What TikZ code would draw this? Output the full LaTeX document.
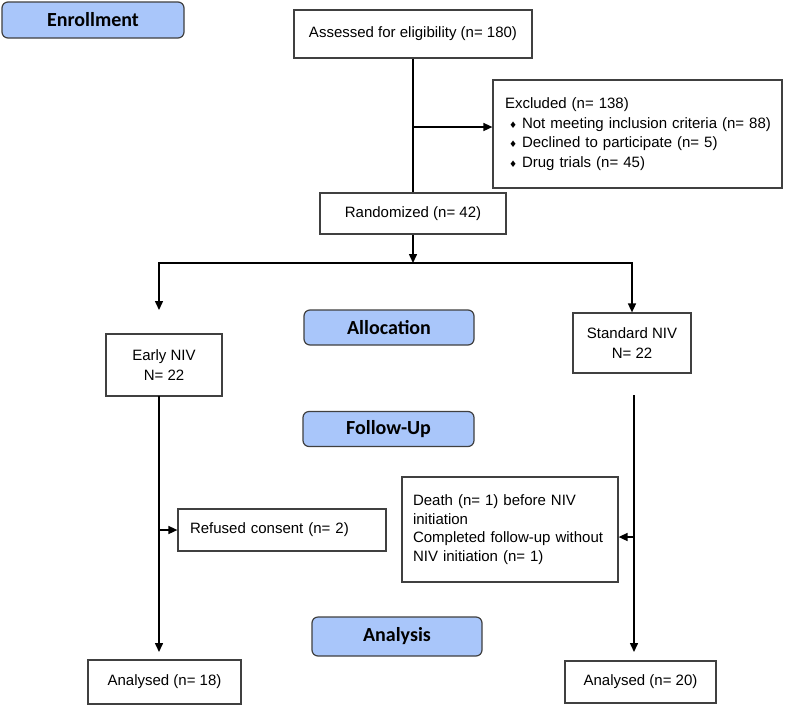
\documentclass[tikz,border=0pt]{standalone}
\usepackage{fontspec}
\setmainfont{Liberation Sans}
\newfontfamily\headfont{Carlito}
\newfontfamily\symfont{DejaVu Sans}
\usetikzlibrary{arrows.meta}
\definecolor{headblue}{RGB}{169,198,250}
\definecolor{boxgray}{RGB}{64,64,64}
\newcommand{\bul}{{\symfont\fontsize{9}{9}\selectfont ♦}}
\begin{document}
\begin{tikzpicture}[x=1pt,y=-1pt,
 box/.style={draw=boxgray,line width=1.2pt,fill=white,inner sep=0pt,font=\fontsize{15}{19.5}\selectfont,align=center},
 head/.style={draw=boxgray,line width=1.2pt,fill=headblue,rounded corners=6pt,inner sep=0pt,font=\headfont\bfseries\fontsize{20}{24}\selectfont},
 conn/.style={line width=1.5pt,black},
 arr/.style={conn,-{Triangle[length=9pt,width=8pt]}}]
\fill[white] (0,0) rectangle (787,705);
\useasboundingbox (0,0) rectangle (787,705);
% phase headings
\node[head,minimum width=182pt,minimum height=36pt] (enroll) at (93,20) {Enrollment};
\node[head,minimum width=170pt,minimum height=35pt] (alloc) at (389,327.5) {Allocation};
\node[head,minimum width=171pt,minimum height=35pt] (follow) at (388.5,429) {Follow-Up};
\node[head,minimum width=170pt,minimum height=39pt] (analysis) at (397,636.5) {Analysis};
% boxes
\node[box,minimum width=238pt,minimum height=48pt] (assess) at (413,34) {Assessed for eligibility (n= 180)};
\node[box,minimum width=289pt,minimum height=108pt,text width=265pt,align=left] (excl) at (637.5,134)
 {\mbox{Excluded (n= 138)}\\
  \mbox{\hspace*{4pt}\bul\hspace{5pt}Not meeting inclusion criteria (n= 88)}\\
  \mbox{\hspace*{4pt}\bul\hspace{5pt}Declined to participate (n= 5)}\\
  \mbox{\hspace*{4pt}\bul\hspace{5pt}Drug trials (n= 45)}};
\node[box,minimum width=186pt,minimum height=41pt] (rand) at (413,213.5) {Randomized (n= 42)};
\node[box,minimum width=116pt,minimum height=62pt] (early) at (164,365) {Early NIV\\N= 22};
\node[box,minimum width=118pt,minimum height=60pt] (std) at (632,343) {Standard NIV\\N= 22};
\node[box,minimum width=208pt,minimum height=42pt,text width=184pt,align=left] (refused) at (282,530) {Refused consent (n= 2)};
\node[box,minimum width=216pt,minimum height=105pt,text width=194pt,align=left,font=\fontsize{15}{18.5}\selectfont] (death) at (510,529.5)
 {Death (n= 1) before NIV\\initiation\\Completed follow-up without\\NIV initiation (n= 1)};
\node[box,minimum width=153pt,minimum height=44pt] (an18) at (164.5,682) {Analysed (n= 18)};
\node[box,minimum width=151pt,minimum height=42pt] (an20) at (640.5,682) {Analysed (n= 20)};
% connectors
\draw[conn] (assess.south) -- (rand.north);
\coordinate (jx) at (413,127);
\draw[arr] (jx) -- (jx -| excl.west);
\coordinate (split) at (413,263);
\draw[arr] (rand.south) -- (split);
\coordinate (sl) at (159,263);
\coordinate (sr) at (632,263);
\coordinate (tl) at (159,310);
\draw[arr] (sr) -- (sl) -- (tl);
\draw[arr] (sl) -- (sr) -- (std.north);
\coordinate (lt) at (159,396);
\coordinate (lb) at (159,652);
\draw[arr] (lt) -- (lb);
\coordinate (rj) at (159,530);
\draw[arr] (rj) -- (rj -| refused.west);
\coordinate (rt) at (634,395);
\coordinate (rb) at (634,652);
\draw[arr] (rt) -- (rb);
\coordinate (dj) at (634,537);
\draw[arr] (dj) -- (dj -| death.east);
\end{tikzpicture}
\end{document}
